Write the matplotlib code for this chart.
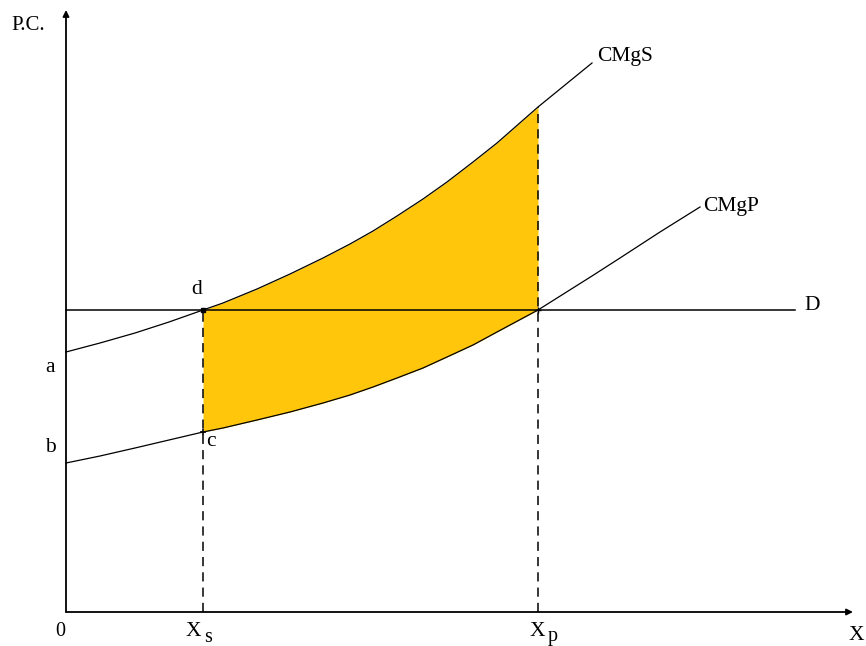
import numpy as np
import matplotlib.pyplot as plt

plt.rcParams['font.family'] = ['Liberation Serif', 'DejaVu Serif']

# cantidades (eje X) compartidas por las dos curvas
x_vals = [0, 34, 69, 103, 137, 157, 191, 224, 257, 284, 307, 331, 357, 381, 407, 431, 472,
          526, 554, 594, 634]
# coste marginal social (termina en x = 526)
cmg_s = [260, 269, 279, 290, 302, 309, 323, 338, 354, 368, 381, 396, 413, 430, 450, 469, 505,
         549]
# coste marginal privado
cmg_p = [149, 156, 164, 172, 180, 184, 192, 200, 209, 217, 225, 234, 244, 255, 267, 280, 302,
         336, 354, 380, 405]
# demanda horizontal
d_level = 302
x_s = 137
x_p = 472
a_level = 260
b_level = 149

fill_color = '#FFC60B'

fig = plt.figure(figsize=(8.66, 6.46), dpi=100)
ax = fig.add_axes([0, 0, 1, 1])
ax.set_xlim(-66, 800)
ax.set_ylim(-34, 612)
ax.axis('off')

xs = np.array(x_vals)
ys = np.array(cmg_s)
yp = np.array(cmg_p)

# area sombreada entre Xs y Xp
i0 = x_vals.index(x_s)
i1 = x_vals.index(x_p)
ax.fill_between(xs[i0:i1 + 1], yp[i0:i1 + 1], ys[i0:i1 + 1], color=fill_color, lw=0, zorder=1)

# curvas
ax.plot(xs[:len(cmg_s)], ys, color='black', lw=0.9, solid_joinstyle='round', zorder=3)
ax.plot(xs, yp, color='black', lw=0.9, solid_joinstyle='round', zorder=3)
ax.plot([0, 729], [d_level, d_level], color='black', lw=1.1, zorder=3)

# lineas punteadas verticales
ax.plot([x_s, x_s], [0, d_level], color='black', lw=1.1, dashes=(6, 4), zorder=3)
ax.plot([x_p, x_p], [0, cmg_s[i1]], color='black', lw=1.1, dashes=(6, 4), zorder=3)

# puntos c y d
ax.plot([x_s], [d_level], marker='s', ms=3.5, color='black', zorder=4)
ax.plot([x_s], [cmg_p[i0]], marker='+', ms=5, mew=1.2, color='black', zorder=4)
ax.plot([x_p], [d_level], marker='+', ms=5, mew=1, color='black', zorder=4)

# ejes con flecha
ax.annotate('', xy=(0, 602), xytext=(0, 0),
            arrowprops=dict(arrowstyle='-|>', lw=1.3, color='black', mutation_scale=9,
                            shrinkA=0, shrinkB=0))
ax.annotate('', xy=(787, 0), xytext=(0, 0),
            arrowprops=dict(arrowstyle='-|>', lw=1.3, color='black', mutation_scale=9,
                            shrinkA=0, shrinkB=0))

fs = 15.5
ax.text(-55, 587, 'P.C.', fontsize=15, ha='left', va='center')
ax.text(-6, -20, '0', fontsize=fs - 1, ha='center', va='center')
# X con subindice (texto aparte, casi del mismo tamano, mas abajo)
ax.text(x_s - 17, -20, 'X', fontsize=fs, ha='left', va='center')
ax.text(x_s + 1, -25, 's', fontsize=fs - 1, ha='left', va='center')
ax.text(x_p - 8, -20, 'X', fontsize=fs, ha='left', va='center')
ax.text(x_p + 10, -25, 'p', fontsize=fs - 1, ha='left', va='center')
ax.text(783, -23, 'X', fontsize=fs, ha='left', va='center')
ax.text(-16, a_level - 16, 'a', fontsize=fs, ha='center', va='center')
ax.text(-16, b_level + 16, 'b', fontsize=fs, ha='center', va='center')
ax.text(x_s - 6, d_level + 21, 'd', fontsize=fs, ha='center', va='center')
ax.text(x_s + 8, cmg_p[i0] - 10, 'c', fontsize=fs, ha='center', va='center')
ax.text(x_vals[len(cmg_s) - 1] + 5, cmg_s[-1] + 7, 'CMgS', fontsize=fs, ha='left', va='center')
ax.text(x_vals[-1] + 3, cmg_p[-1], 'CMgP', fontsize=fs, ha='left', va='center')
ax.text(738, d_level + 4, 'D', fontsize=fs, ha='left', va='center')

fig.savefig('out.png', dpi=100)
